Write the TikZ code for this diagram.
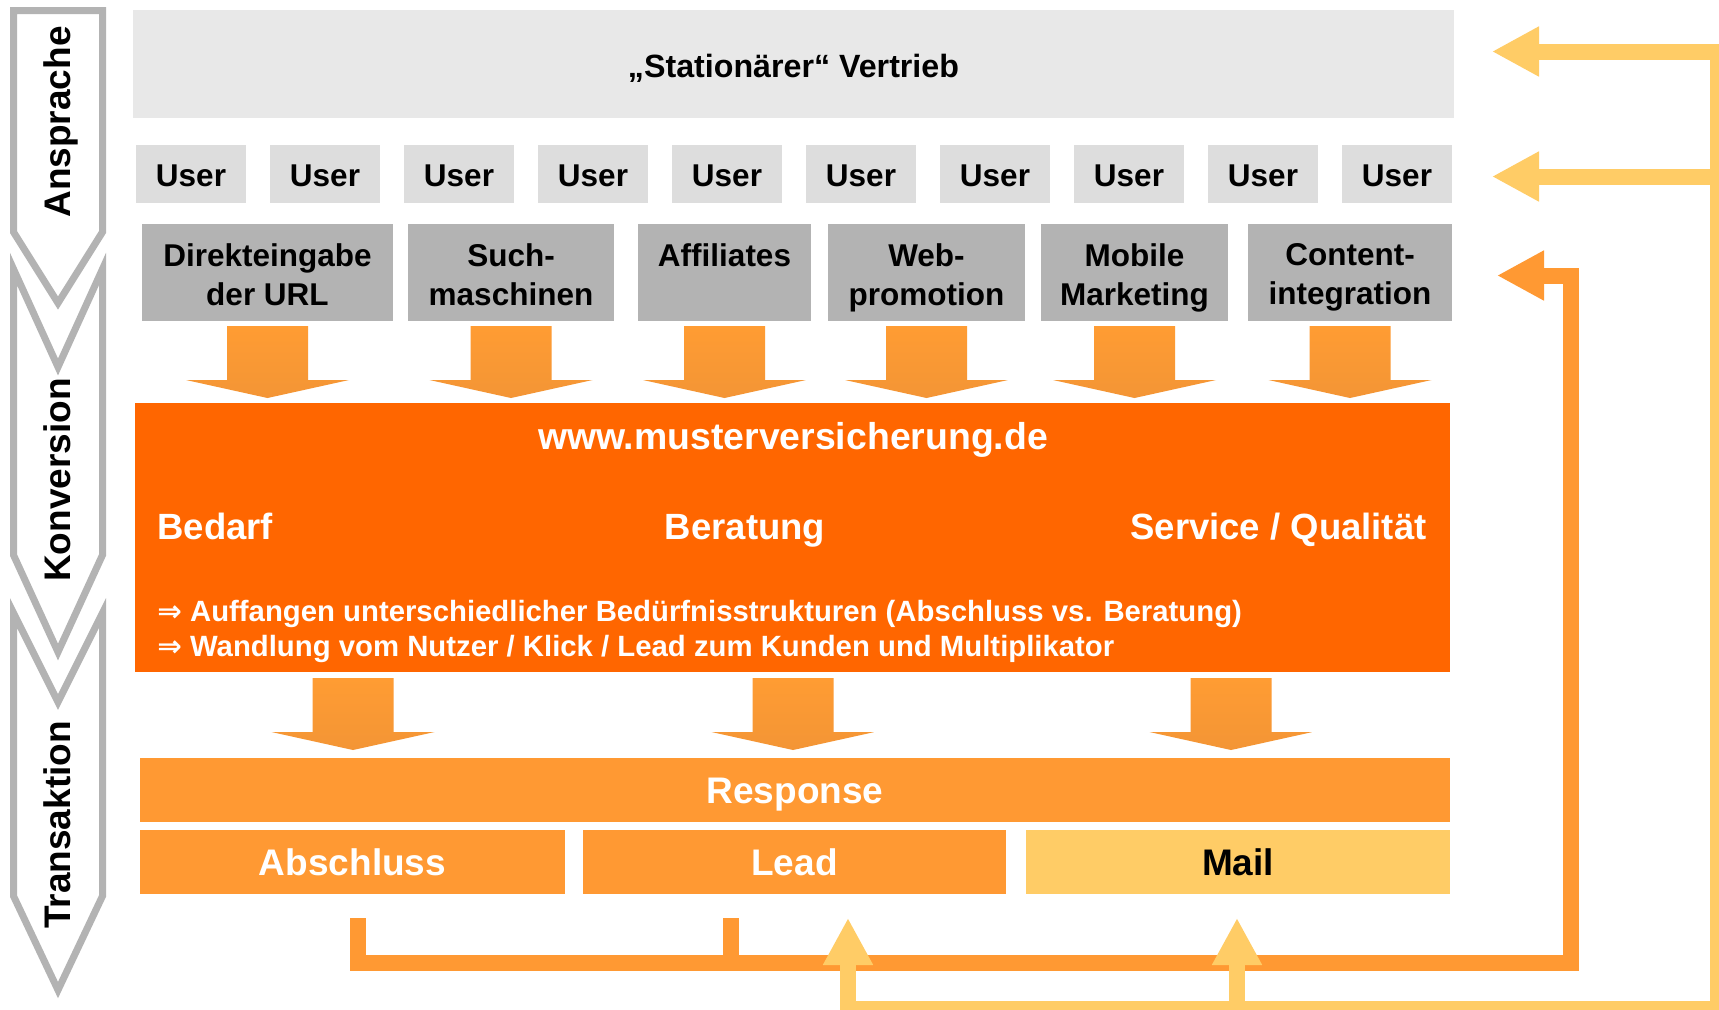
\documentclass[tikz,border=0pt]{standalone}
\usepackage{fontspec}
\setmainfont{Liberation Sans}
\newfontfamily\arrowfont{DejaVu Sans}
\usetikzlibrary{arrows.meta,calc,fit}

\definecolor{chevgray}{HTML}{B3B3B3}
\definecolor{statgray}{HTML}{E8E8E8}
\definecolor{usergray}{HTML}{DDDDDD}
\definecolor{srcgray}{HTML}{B3B3B3}
\definecolor{mainorange}{HTML}{FF6600}
\definecolor{lightorange}{HTML}{FF9933}
\definecolor{paleorange}{HTML}{FFCC66}
\definecolor{arrowtop}{HTML}{FF9C33}
\definecolor{arrowbot}{HTML}{F39535}

\begin{document}
\begin{tikzpicture}[x=0.5pt, y=-0.5pt,
  chevron/.style={draw=chevgray, line width=3.5pt, line join=miter, fill=white},
  phase/.style={rotate=90, inner sep=0pt, font=\fontsize{18.5}{22}\selectfont\bfseries},
  flatbox/.style={inner sep=0pt, outer sep=0pt},
  statbox/.style={flatbox, fill=statgray},
  stattext/.style={inner sep=0pt, font=\fontsize{16.1}{20}\selectfont\bfseries},
  userbox/.style={flatbox, fill=usergray},
  usertext/.style={inner sep=0pt, font=\fontsize{15.75}{19}\selectfont\bfseries},
  srcbox/.style={flatbox, fill=srcgray},
  srctext/.style={inner sep=0pt, align=center, font=\fontsize{15.75}{19.5}\selectfont\bfseries},
  headtext/.style={inner sep=0pt, text=white, font=\fontsize{18.25}{22}\selectfont\bfseries},
  bullettext/.style={inner sep=0pt, text=white, font=\fontsize{14.66}{17.5}\selectfont\bfseries},
  resultbox/.style={flatbox, fill=lightorange},
  resulttext/.style={inner sep=0pt, text=white, font=\fontsize{18.5}{22}\selectfont\bfseries},
  feedback/.style={line width=8pt, line join=miter},
  fbtip/.tip={Triangle[length=23.5pt,width=23.5pt]},
  downarrow/.pic={
    \shade[top color=arrowtop, bottom color=arrowbot]
      (-40.5,0) -- (40.5,0) -- (40.5,54) -- (81.5,54) -- (0,72)
      -- (-81.5,54) -- (-40.5,54) -- cycle;
  }
]
\useasboundingbox (0,0) rectangle (1719,1009);
\fill[white] (0,0) rectangle (1719,1009);

% phase chevrons on the left
\draw[chevron] (13.5,10.5) -- (102.5,10.5) -- (102.5,232) -- (58,303) -- (13.5,232) -- cycle;
\draw[chevron] (13.5,269) -- (58,367) -- (102.5,269) -- (102.5,555) -- (58,652) -- (13.5,555) -- cycle;
\draw[chevron] (13.5,613) -- (58,702) -- (102.5,613) -- (102.5,896) -- (58,990) -- (13.5,896) -- cycle;
\node[phase, anchor=base] (ph1) at (70,122) {Ansprache};
\node[phase, anchor=base] (ph2) at (70,480) {Konversion};
\node[phase, anchor=base] (ph3) at (70,825) {Transaktion};

% offline sales channel
\node[statbox, fit={(133,10) (1454,118)}] (stat) {};
\node[stattext, anchor=base] (statt) at ($(stat.center)+(0,13)$) {„Stationärer“ Vertrieb};

% users
\foreach \i in {0,...,9}{
  \node[userbox, fit={({136+134*\i},145) ({246+134*\i},203)}] (u\i) {};
  \node[usertext, anchor=base] (u\i t) at ($(u\i.center)+(0,12)$) {User};
}

% traffic sources
\node[srcbox, fit={(142,224) (393,321)}] (s1) {};
\node[srcbox, fit={(408,224) (614,321)}] (s2) {};
\node[srcbox, fit={(638,224) (811,321)}] (s3) {};
\node[srcbox, fit={(828,224) (1025,321)}] (s4) {};
\node[srcbox, fit={(1041,224) (1228,321)}] (s5) {};
\node[srcbox, fit={(1248,224) (1452,321)}] (s6) {};
\node[srctext, anchor=north] (s1t) at ($(s1.north)+(0,19)$) {Direkteingabe\\der URL};
\node[srctext, anchor=north] (s2t) at ($(s2.north)+(0,19)$) {Such-\\maschinen};
\node[srctext, anchor=north] (s3t) at ($(s3.north)+(0,19)$) {Affiliates};
\node[srctext, anchor=north] (s4t) at ($(s4.north)+(0,19)$) {Web-\\promotion};
\node[srctext, anchor=north] (s5t) at ($(s5.north)+(0,19)$) {Mobile\\Marketing};
\node[srctext, anchor=north] (s6t) at ($(s6.north)+(0,19)$) {Content-\\integration};

\foreach \n in {s1,s2,s3,s4,s5,s6}
  \pic at ($(\n.south)+(0,5)$) {downarrow};

% website block
\node[flatbox, fill=mainorange, fit={(135,403) (1450,672)}] (web) {};
\node[headtext, anchor=base, font=\fontsize{18.7}{22}\selectfont\bfseries] (wwwt) at (793,449) {www.musterversicherung.de};
\node[headtext, anchor=base west] (bedarf) at (157,539) {Bedarf};
\node[headtext, anchor=base] (berat) at (745,539) {Beratung};
\node[headtext, anchor=base east] (serv) at (1427,539) {Service / Qualität};
\node[bullettext, anchor=base west] (b1) at (157,621)
  {{\arrowfont ⇒} Auffangen unterschiedlicher Bedürfnisstrukturen (Abschluss vs. Beratung)};
\node[bullettext, anchor=base west] (b2) at (157,656)
  {{\arrowfont ⇒} Wandlung vom Nutzer / Klick / Lead zum Kunden und Multiplikator};

\foreach \x in {353,793,1231}
  \pic at (\x,678) {downarrow};

% response and its outcomes
\node[resultbox, fit={(140,758) (1450,822)}] (resp) {};
\node[resultbox, fit={(140,830) (565,894)}] (absch) {};
\node[resultbox, fit={(583,830) (1006,894)}] (lead) {};
\node[resultbox, fill=paleorange, fit={(1026,830) (1450,894)}] (mail) {};
\node[resulttext, anchor=base] (respt) at ($(resp.center)+(0,13)$) {Response};
\node[resulttext, anchor=base] (abscht) at ($(absch.center)+(0,13)$) {Abschluss};
\node[resulttext, anchor=base] (leadt) at ($(lead.center)+(0,13)$) {Lead};
\node[resulttext, anchor=base, text=black] (mailt) at ($(mail.center)+(0,13)$) {Mail};

% feedback loops
\begin{scope}
\clip (0,0) rectangle (1719,1009);
\coordinate (oa) at ($(absch.south)+(5,24)$);
\coordinate (ob) at ($(lead.south west)+(148,24)$);
\coordinate (orail) at (1570.5,962.5);
\coordinate (otip) at ($(s6.east)+(45,3)$);
\draw[feedback, draw=lightorange] (ob) -- (ob |- orail);
\draw[feedback, draw=lightorange, -{fbtip}] (oa) |- (orail) |- (otip);

\coordinate (ystart) at (840,1009);
\coordinate (yrail) at (1718,1009);
\coordinate (ytip1) at ($(stat.east)+(38,-12.5)$);
\coordinate (ytip2) at ($(u9.east)+(40,2.5)$);
\coordinate (ytip3) at (848,918);
\coordinate (ytip4) at ($(mail.south)+(-1,24)$);
\draw[feedback, draw=paleorange, -{fbtip}] (ystart) -- (yrail) |- (ytip1);
\draw[feedback, draw=paleorange, -{fbtip}] (yrail |- ytip2) -- (ytip2);
\draw[feedback, draw=paleorange, -{fbtip}] (ytip3 |- yrail) -- (ytip3);
\draw[feedback, draw=paleorange, -{fbtip}] (ytip4 |- yrail) -- (ytip4);
\end{scope}
\end{tikzpicture}
\end{document}
